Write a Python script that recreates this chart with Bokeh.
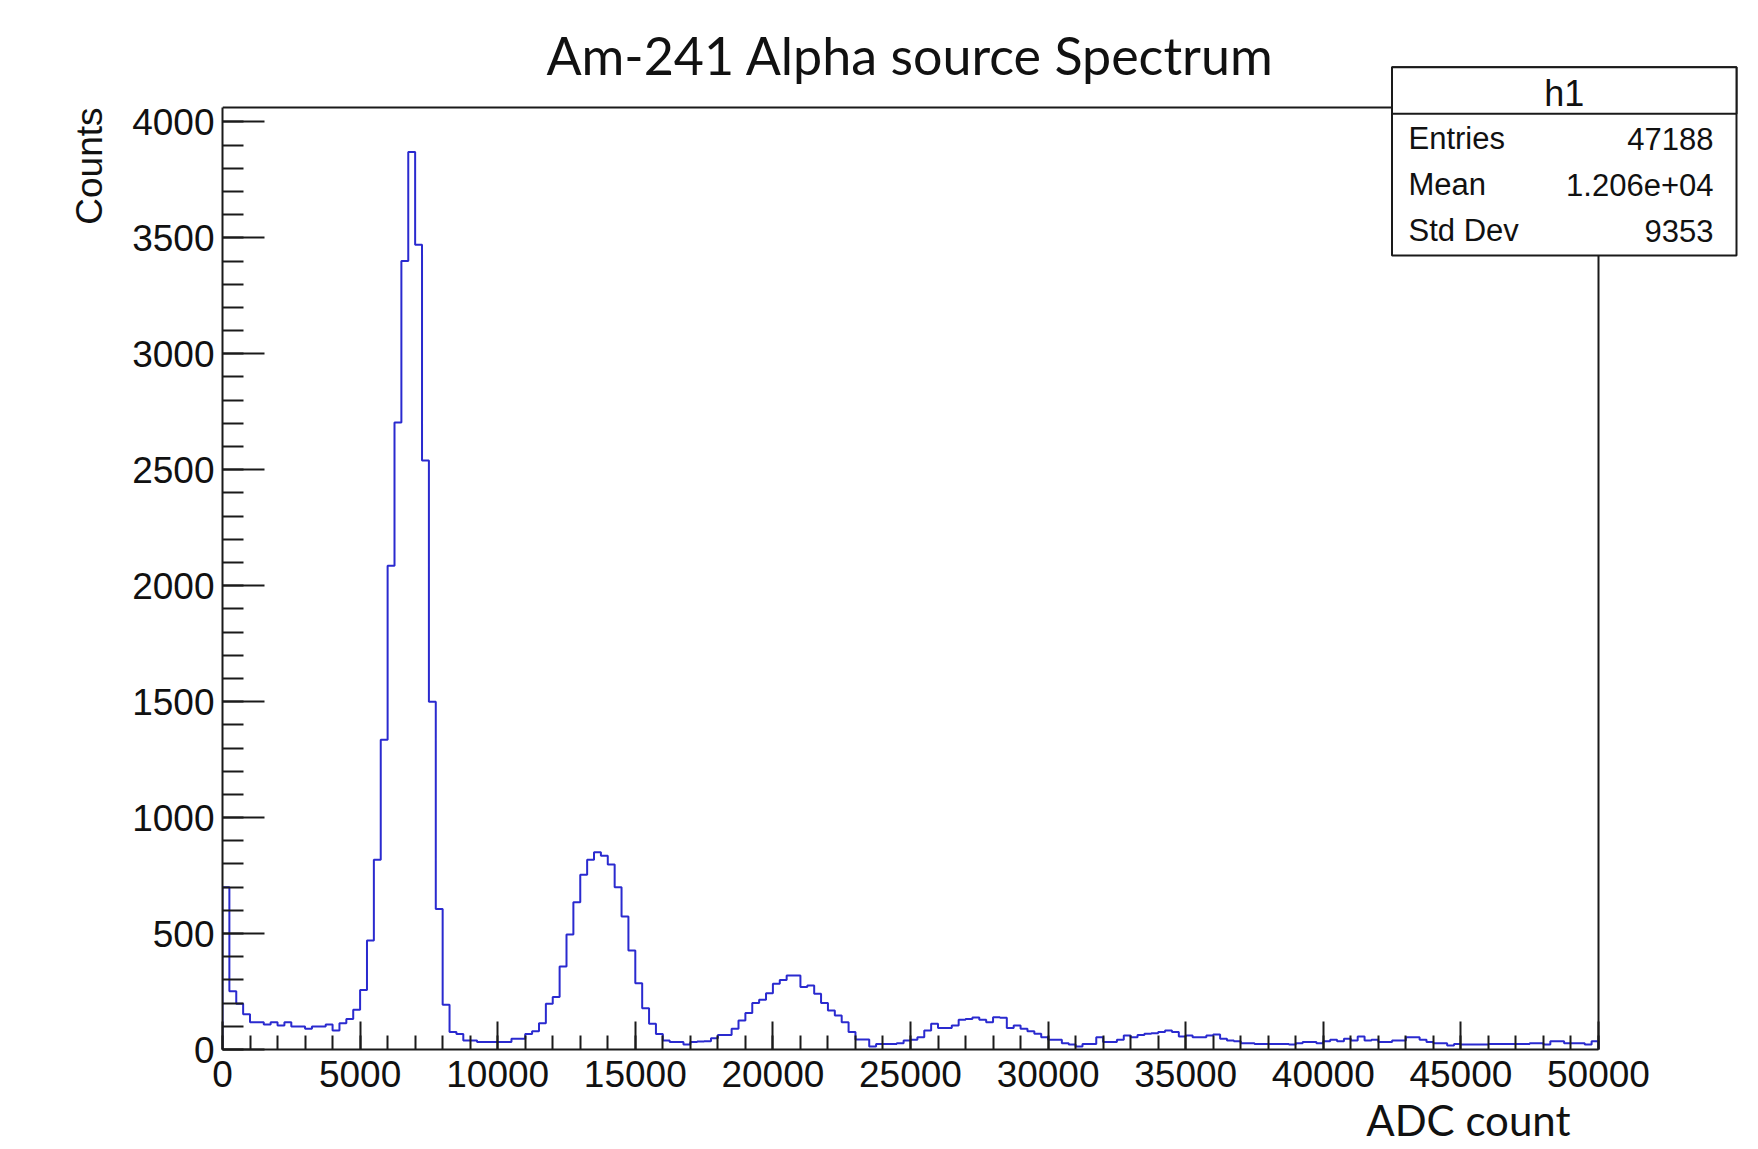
import numpy as np
from bokeh.plotting import figure
from bokeh.models import (Range1d, SingleIntervalTicker, Label, BoxAnnotation, Title,
                          ColumnDataSource, NumeralTickFormatter)
from bokeh.embed import file_html
from bokeh.resources import INLINE

# ---------------- data ----------------
TITLE = "Am-241 Alpha source Spectrum"
X_LABEL = "ADC count"
Y_LABEL = "Counts"
HIST_NAME = "h1"
STAT_NAMES = ["Entries", "Mean", "Std Dev"]
STAT_VALUES = ["47188", "1.206e+04", "9353"]

X_MIN, X_MAX = 0, 50000
BIN_WIDTH = 250
Y_MAX = 4062
X_TICK_INTERVAL = 5000
Y_TICK_INTERVAL = 500

COUNTS = [
    700, 251, 197, 152, 118, 118, 108, 118, 103, 118,
    99, 99, 89, 99, 99, 108, 82, 113, 132, 171,
    257, 470, 818, 1336, 2086, 2704, 3400, 3870, 3470, 2540,
    1500, 606, 193, 75, 67, 39, 39, 32, 32, 32,
    32, 32, 46, 46, 67, 79, 113, 197, 226, 358,
    496, 635, 754, 818, 851, 836, 798, 700, 573, 427,
    286, 178, 111, 67, 39, 32, 32, 22, 32, 34,
    36, 49, 63, 63, 89, 125, 157, 200, 214, 243,
    283, 300, 319, 319, 269, 276, 240, 200, 168, 147,
    118, 75, 43, 43, 13, 24, 24, 24, 27, 39,
    42, 53, 82, 111, 93, 93, 103, 128, 132, 138,
    128, 118, 139, 137, 93, 103, 89, 79, 68, 53,
    42, 42, 27, 22, 13, 24, 24, 53, 32, 32,
    42, 60, 53, 63, 68, 70, 75, 82, 75, 56,
    60, 53, 53, 60, 65, 46, 39, 36, 27, 27,
    24, 24, 24, 24, 24, 22, 27, 32, 32, 27,
    36, 42, 36, 46, 39, 56, 39, 42, 32, 32,
    39, 39, 53, 53, 42, 32, 27, 27, 17, 24,
    22, 22, 22, 22, 24, 24, 24, 24, 24, 24,
    27, 27, 22, 36, 36, 27, 27, 27, 22, 36,
]

# ---------------- layout (page pixels) ----------------
W, H = 1758, 1149
AX_L, AX_R, AX_T, AX_B = 222, 1598, 107, 1049      # histogram frame
FRAME_W, FRAME_H = W - AX_L, AX_B                  # drawing area (extends to top/right edge)
PX_X = (X_MAX - X_MIN) / (AX_R - AX_L)
PX_Y = Y_MAX / (AX_B - AX_T)


def dx(px):
    return X_MIN + (px - AX_L) * PX_X


def dy(py):
    return (AX_B - py) * PX_Y


INK = "#1a1a1a"
LINE_BLUE = "#2a2acf"
TXT = "#111111"

p = figure(frame_width=FRAME_W, frame_height=FRAME_H,
           min_border_left=AX_L, min_border_right=0,
           min_border_top=0, min_border_bottom=H - AX_B,
           x_range=Range1d(X_MIN, dx(W)), y_range=Range1d(0, dy(0)),
           output_backend="svg", toolbar_location=None, tools="")

p.background_fill_color = "white"
p.border_fill_color = "white"
p.xgrid.visible = False
p.ygrid.visible = False
p.outline_line_color = None

# top and right frame lines of the histogram box
p.segment(x0=[X_MIN, X_MAX], y0=[Y_MAX, 0], x1=[X_MAX, X_MAX], y1=[Y_MAX, Y_MAX],
          line_color=INK, line_width=2)

# histogram outline
counts = np.array(COUNTS, dtype=float)
edges = X_MIN + BIN_WIDTH * np.arange(len(counts) + 1)
xs = np.concatenate([[edges[0]], np.repeat(edges, 2)[1:-1], [edges[-1]]])
ys = np.concatenate([[0.0], np.repeat(counts, 2), [0.0]])
src = ColumnDataSource(dict(x=xs, y=ys))
p.line("x", "y", source=src, line_color=LINE_BLUE, line_width=2)

# axes
p.xaxis.ticker = SingleIntervalTicker(interval=X_TICK_INTERVAL, num_minor_ticks=5)
p.yaxis.ticker = SingleIntervalTicker(interval=Y_TICK_INTERVAL, num_minor_ticks=5)
p.xaxis.formatter = NumeralTickFormatter(format="0")
p.yaxis.formatter = NumeralTickFormatter(format="0")
p.xaxis.bounds = (X_MIN, X_MAX)
p.yaxis.bounds = (0, Y_MAX)
for ax in (p.xaxis[0], p.yaxis[0]):
    ax.axis_line_color = INK
    ax.axis_line_width = 2
    ax.major_tick_line_color = INK
    ax.major_tick_line_width = 2
    ax.minor_tick_line_color = INK
    ax.minor_tick_line_width = 2
    ax.major_tick_out = 0
    ax.minor_tick_out = 0
    ax.major_label_text_font = "Liberation Sans"
    ax.major_label_text_font_size = "37px"
    ax.major_label_text_color = TXT
p.yaxis.major_tick_in = 42
p.yaxis.minor_tick_in = 21
p.xaxis.major_tick_in = 28
p.xaxis.minor_tick_in = 14
p.yaxis.major_label_standoff = 8
p.xaxis.major_label_standoff = 11

# axis titles (outside the drawing area, in the side panels)
p.add_layout(Title(text=Y_LABEL, align="right", offset=AX_T, standoff=40,
                   text_font="Liberation Sans", text_font_size="37px",
                   text_font_style="normal", text_color=TXT), "left")
p.add_layout(Title(text=X_LABEL, align="right", offset=W - 1570, standoff=6,
                   text_font="Lato", text_font_size="42px",
                   text_font_style="normal", text_color=TXT), "below")


def label(text, x, y, size, font, align="left"):
    p.add_layout(Label(x=dx(x), y=dy(y), text=text, text_font=font,
                       text_font_size=size, text_color=TXT,
                       text_align=align, text_baseline="alphabetic"))


# main title
label(TITLE, (AX_L + AX_R) / 2, 54, "52px", "Lato", align="center")

# statistics box
BOX_L, BOX_R, BOX_T, BOX_B, BOX_HDR = 1391.5, 1736, 66.7, 255, 113.3
p.add_layout(BoxAnnotation(left=dx(BOX_L), right=dx(BOX_R), top=dy(BOX_T), bottom=dy(BOX_B),
                           fill_color="white", fill_alpha=1, line_color=INK,
                           line_width=2, line_alpha=1))
p.add_layout(BoxAnnotation(left=dx(BOX_L), right=dx(BOX_R), top=dy(BOX_T), bottom=dy(BOX_HDR),
                           fill_color="white", fill_alpha=1, line_color=INK,
                           line_width=2, line_alpha=1))
label(HIST_NAME, (BOX_L + BOX_R) / 2, 93, "36px", "Liberation Sans", align="center")
ROW_BASELINES = [138, 184, 230]
for name, val, yb in zip(STAT_NAMES, STAT_VALUES, ROW_BASELINES):
    label(name, 1408, yb, "31px", "Liberation Sans", align="left")
    label(val, 1713, yb, "31px", "Liberation Sans", align="right")

open("out.html", "w").write(file_html(p, INLINE))
